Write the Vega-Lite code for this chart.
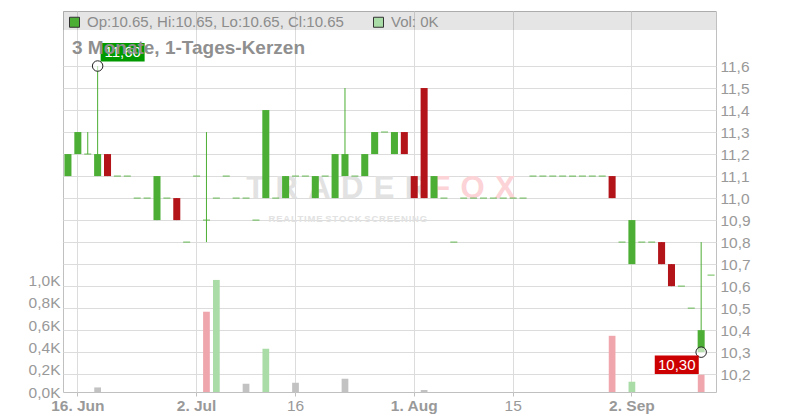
{
  "$schema": "https://vega.github.io/schema/vega-lite/v6.json",
  "width": 653,
  "height": 381,
  "autosize": "none",
  "padding": {"left": 63, "top": 11, "right": 84, "bottom": 28},
  "background": "white",
  "config": {
    "font": "Liberation Sans",
    "view": {"stroke": "#c0c0c0", "strokeWidth": 1},
    "axis": {"labelColor": "#999999", "labelFont": "Liberation Sans", "gridColor": "#dcdcdc", "gridWidth": 1}
  },
  "title": {
    "text": "3 Monate, 1-Tages-Kerzen",
    "anchor": "start",
    "frame": "group",
    "orient": "top",
    "baseline": "alphabetic",
    "offset": -62,
    "dx": 9,
    "fontSize": 19,
    "fontWeight": "bold",
    "color": "#8f8f8f",
    "font": "Liberation Sans"
  },
  "datasets": {
    "candles": [
      {"d": "2025-06-13", "o": 11.1, "h": 11.2, "l": 11.1, "c": 11.2, "v": 0, "vd": "flat"},
      {"d": "2025-06-16", "o": 11.2, "h": 11.3, "l": 11.2, "c": 11.3, "v": 0, "vd": "up"},
      {"d": "2025-06-17", "o": 11.2, "h": 11.3, "l": 11.2, "c": 11.2, "v": 0, "vd": "down"},
      {"d": "2025-06-18", "o": 11.1, "h": 11.6, "l": 11.1, "c": 11.2, "v": 41, "vd": "flat"},
      {"d": "2025-06-19", "o": 11.2, "h": 11.2, "l": 11.1, "c": 11.1, "v": 0, "vd": "down"},
      {"d": "2025-06-20", "o": 11.1, "h": 11.1, "l": 11.1, "c": 11.1, "v": 0, "vd": "flat"},
      {"d": "2025-06-23", "o": 11.1, "h": 11.1, "l": 11.1, "c": 11.1, "v": 0, "vd": "flat"},
      {"d": "2025-06-24", "o": 11.0, "h": 11.0, "l": 11.0, "c": 11.0, "v": 0, "vd": "down"},
      {"d": "2025-06-25", "o": 11.0, "h": 11.0, "l": 11.0, "c": 11.0, "v": 0, "vd": "flat"},
      {"d": "2025-06-26", "o": 10.9, "h": 11.1, "l": 10.9, "c": 11.1, "v": 0, "vd": "up"},
      {"d": "2025-06-27", "o": 11.0, "h": 11.0, "l": 11.0, "c": 11.0, "v": 0, "vd": "down"},
      {"d": "2025-06-30", "o": 11.0, "h": 11.0, "l": 10.9, "c": 10.9, "v": 0, "vd": "down"},
      {"d": "2025-07-01", "o": 10.8, "h": 10.8, "l": 10.8, "c": 10.8, "v": 0, "vd": "down"},
      {"d": "2025-07-02", "o": 11.1, "h": 11.1, "l": 11.1, "c": 11.1, "v": 0, "vd": "up"},
      {"d": "2025-07-03", "o": 10.9, "h": 11.3, "l": 10.8, "c": 10.9, "v": 720, "vd": "down"},
      {"d": "2025-07-04", "o": 11.0, "h": 11.0, "l": 11.0, "c": 11.0, "v": 1005, "vd": "up"},
      {"d": "2025-07-07", "o": 11.1, "h": 11.1, "l": 11.1, "c": 11.1, "v": 0, "vd": "up"},
      {"d": "2025-07-08", "o": 11.0, "h": 11.0, "l": 11.0, "c": 11.0, "v": 0, "vd": "down"},
      {"d": "2025-07-09", "o": 11.0, "h": 11.0, "l": 11.0, "c": 11.0, "v": 74, "vd": "flat"},
      {"d": "2025-07-10", "o": 10.9, "h": 10.9, "l": 10.9, "c": 10.9, "v": 0, "vd": "down"},
      {"d": "2025-07-11", "o": 11.0, "h": 11.4, "l": 11.0, "c": 11.4, "v": 388, "vd": "up"},
      {"d": "2025-07-14", "o": 11.0, "h": 11.0, "l": 11.0, "c": 11.0, "v": 0, "vd": "down"},
      {"d": "2025-07-15", "o": 11.0, "h": 11.1, "l": 11.0, "c": 11.1, "v": 0, "vd": "up"},
      {"d": "2025-07-16", "o": 11.1, "h": 11.1, "l": 11.1, "c": 11.1, "v": 83, "vd": "flat"},
      {"d": "2025-07-17", "o": 11.1, "h": 11.1, "l": 11.1, "c": 11.1, "v": 0, "vd": "flat"},
      {"d": "2025-07-18", "o": 11.0, "h": 11.1, "l": 11.0, "c": 11.1, "v": 0, "vd": "flat"},
      {"d": "2025-07-21", "o": 11.1, "h": 11.1, "l": 11.1, "c": 11.1, "v": 0, "vd": "flat"},
      {"d": "2025-07-22", "o": 11.0, "h": 11.2, "l": 11.0, "c": 11.2, "v": 0, "vd": "up"},
      {"d": "2025-07-23", "o": 11.1, "h": 11.5, "l": 11.1, "c": 11.2, "v": 119, "vd": "flat"},
      {"d": "2025-07-24", "o": 11.1, "h": 11.1, "l": 11.1, "c": 11.1, "v": 0, "vd": "down"},
      {"d": "2025-07-25", "o": 11.1, "h": 11.2, "l": 11.1, "c": 11.2, "v": 0, "vd": "up"},
      {"d": "2025-07-28", "o": 11.2, "h": 11.3, "l": 11.2, "c": 11.3, "v": 0, "vd": "up"},
      {"d": "2025-07-29", "o": 11.3, "h": 11.3, "l": 11.3, "c": 11.3, "v": 0, "vd": "flat"},
      {"d": "2025-07-30", "o": 11.2, "h": 11.3, "l": 11.2, "c": 11.3, "v": 0, "vd": "flat"},
      {"d": "2025-07-31", "o": 11.3, "h": 11.3, "l": 11.2, "c": 11.2, "v": 0, "vd": "down"},
      {"d": "2025-08-01", "o": 11.1, "h": 11.1, "l": 11.0, "c": 11.0, "v": 0, "vd": "down"},
      {"d": "2025-08-04", "o": 11.5, "h": 11.5, "l": 11.0, "c": 11.0, "v": 18, "vd": "flat"},
      {"d": "2025-08-05", "o": 11.0, "h": 11.1, "l": 11.0, "c": 11.1, "v": 0, "vd": "up"},
      {"d": "2025-08-06", "o": 11.0, "h": 11.0, "l": 11.0, "c": 11.0, "v": 0, "vd": "down"},
      {"d": "2025-08-07", "o": 10.8, "h": 10.8, "l": 10.8, "c": 10.8, "v": 0, "vd": "down"},
      {"d": "2025-08-08", "o": 11.0, "h": 11.0, "l": 11.0, "c": 11.0, "v": 0, "vd": "up"},
      {"d": "2025-08-11", "o": 11.0, "h": 11.0, "l": 11.0, "c": 11.0, "v": 0, "vd": "flat"},
      {"d": "2025-08-12", "o": 11.0, "h": 11.0, "l": 11.0, "c": 11.0, "v": 0, "vd": "flat"},
      {"d": "2025-08-13", "o": 11.0, "h": 11.0, "l": 11.0, "c": 11.0, "v": 0, "vd": "flat"},
      {"d": "2025-08-14", "o": 11.0, "h": 11.0, "l": 11.0, "c": 11.0, "v": 0, "vd": "flat"},
      {"d": "2025-08-15", "o": 11.0, "h": 11.0, "l": 11.0, "c": 11.0, "v": 0, "vd": "flat"},
      {"d": "2025-08-18", "o": 11.0, "h": 11.0, "l": 11.0, "c": 11.0, "v": 0, "vd": "flat"},
      {"d": "2025-08-19", "o": 11.1, "h": 11.1, "l": 11.1, "c": 11.1, "v": 0, "vd": "up"},
      {"d": "2025-08-20", "o": 11.1, "h": 11.1, "l": 11.1, "c": 11.1, "v": 0, "vd": "flat"},
      {"d": "2025-08-21", "o": 11.1, "h": 11.1, "l": 11.1, "c": 11.1, "v": 0, "vd": "flat"},
      {"d": "2025-08-22", "o": 11.1, "h": 11.1, "l": 11.1, "c": 11.1, "v": 0, "vd": "flat"},
      {"d": "2025-08-25", "o": 11.1, "h": 11.1, "l": 11.1, "c": 11.1, "v": 0, "vd": "flat"},
      {"d": "2025-08-26", "o": 11.1, "h": 11.1, "l": 11.1, "c": 11.1, "v": 0, "vd": "flat"},
      {"d": "2025-08-27", "o": 11.1, "h": 11.1, "l": 11.1, "c": 11.1, "v": 0, "vd": "flat"},
      {"d": "2025-08-28", "o": 11.1, "h": 11.1, "l": 11.1, "c": 11.1, "v": 0, "vd": "flat"},
      {"d": "2025-08-29", "o": 11.1, "h": 11.1, "l": 11.0, "c": 11.0, "v": 504, "vd": "down"},
      {"d": "2025-09-01", "o": 10.8, "h": 10.8, "l": 10.8, "c": 10.8, "v": 0, "vd": "down"},
      {"d": "2025-09-02", "o": 10.7, "h": 10.9, "l": 10.7, "c": 10.9, "v": 92, "vd": "up"},
      {"d": "2025-09-03", "o": 10.8, "h": 10.8, "l": 10.8, "c": 10.8, "v": 0, "vd": "down"},
      {"d": "2025-09-04", "o": 10.8, "h": 10.8, "l": 10.8, "c": 10.8, "v": 0, "vd": "flat"},
      {"d": "2025-09-05", "o": 10.8, "h": 10.8, "l": 10.7, "c": 10.7, "v": 0, "vd": "down"},
      {"d": "2025-09-08", "o": 10.7, "h": 10.7, "l": 10.6, "c": 10.6, "v": 0, "vd": "down"},
      {"d": "2025-09-09", "o": 10.6, "h": 10.6, "l": 10.6, "c": 10.6, "v": 0, "vd": "flat"},
      {"d": "2025-09-10", "o": 10.5, "h": 10.5, "l": 10.5, "c": 10.5, "v": 0, "vd": "down"},
      {"d": "2025-09-11", "o": 10.3, "h": 10.8, "l": 10.3, "c": 10.4, "v": 155, "vd": "down"},
      {"d": "2025-09-12", "o": 10.65, "h": 10.65, "l": 10.65, "c": 10.65, "v": 0, "vd": "up"}
    ]
  },
  "layer": [
    {
      "data": {"name": "candles"},
      "mark": {"type": "bar", "width": {"band": 0.68}},
      "encoding": {
        "x": {
          "field": "d", "type": "ordinal",
          "scale": {"type": "band", "paddingInner": 0, "paddingOuter": 0},
          "axis": {
            "values": ["2025-06-16", "2025-07-02", "2025-07-16", "2025-08-01", "2025-08-15", "2025-09-02"],
            "labelExpr": "{'2025-06-16': '16. Jun', '2025-07-02': '2. Jul', '2025-07-16': '16', '2025-08-01': '1. Aug', '2025-08-15': '15', '2025-09-02': '2. Sep'}[datum.value]",
            "labelFontWeight": {"condition": {"test": "datum.value == '2025-07-16' || datum.value == '2025-08-15'", "value": "normal"}, "value": "bold"},
            "grid": true,
            "bandPosition": 0.5,
            "tickSize": 4,
            "tickColor": "#c0c0c0",
            "domain": false,
            "labelAngle": 0,
            "labelFontSize": 15.5,
            "labelPadding": 2,
            "title": null
          }
        },
        "y": {
          "field": "v", "type": "quantitative",
          "scale": {"domain": [0, 3417], "nice": false, "zero": true},
          "axis": {
            "orient": "left",
            "values": [0, 200, 400, 600, 800, 1000],
            "tickCount": 20,
            "labelExpr": "replace(format(datum.value / 1000, '.1f'), '.', ',') + 'K'",
            "grid": false, "ticks": false, "domain": false,
            "labelFontSize": 15.5, "labelPadding": 3, "title": null
          }
        },
        "color": {
          "field": "vd", "type": "nominal",
          "scale": {"domain": ["up", "down", "flat"], "range": ["#a9dca6", "#efa6ad", "#c2c2c2"]},
          "legend": null
        }
      }
    },
    {
      "layer": [
        {
          "data": {"values": [{"band": "header"}]},
          "mark": {"type": "rect", "color": "#000000", "opacity": 0.1},
          "encoding": {
            "y": {
              "datum": 11.85, "type": "quantitative",
              "scale": {"domain": [10.119, 11.85], "zero": false, "nice": false},
              "axis": {
                "orient": "right",
                "values": [10.2, 10.3, 10.4, 10.5, 10.6, 10.7, 10.8, 10.9, 11.0, 11.1, 11.2, 11.3, 11.4, 11.5, 11.6],
                "tickCount": 30,
                "labelExpr": "replace(format(datum.value, '.1f'), '.', ',')",
                "labelOverlap": false,
                "grid": true, "ticks": false, "domain": false,
                "labelFontSize": 15.5, "labelPadding": 4, "title": null
              }
            },
            "y2": {"datum": 11.764}
          }
        },
        {
          "data": {"values": [{"w": "T\u2004R\u2004A\u2004D\u2004E\u2004R", "d": "2025-08-04", "p": 11.0}]},
          "mark": {"type": "text", "align": "right", "baseline": "alphabetic", "dx": 3, "fontSize": 31, "fontWeight": "bold", "color": "#e2e2e2"},
          "encoding": {
            "x": {"field": "d", "type": "ordinal"},
            "y": {"field": "p", "type": "quantitative"},
            "text": {"field": "w"}
          }
        },
        {
          "data": {"values": [{"w": "F\u2004O\u2004X", "d": "2025-08-04", "p": 11.0}]},
          "mark": {"type": "text", "align": "left", "baseline": "alphabetic", "dx": 7, "fontSize": 31, "fontWeight": "bold", "color": "#fcd3d6"},
          "encoding": {
            "x": {"field": "d", "type": "ordinal"},
            "y": {"field": "p", "type": "quantitative"},
            "text": {"field": "w"}
          }
        },
        {
          "data": {"values": [{"w": "R\u200aE\u200aA\u200aL\u200aT\u200aI\u200aM\u200aE  S\u200aT\u200aO\u200aC\u200aK  S\u200aC\u200aR\u200aE\u200aE\u200aN\u200aI\u200aN\u200aG", "d": "2025-08-04", "p": 10.89}]},
          "mark": {"type": "text", "align": "right", "baseline": "alphabetic", "dx": 3, "fontSize": 9.5, "fontWeight": "bold", "color": "#e2e2e2"},
          "encoding": {
            "x": {"field": "d", "type": "ordinal"},
            "y": {"field": "p", "type": "quantitative"},
            "text": {"field": "w"}
          }
        },
        {
          "data": {"values": [{"lg": "Op:10.65, Hi:10.65, Lo:10.65, Cl:10.65"}, {"lg": "Vol: 0K"}]},
          "mark": {"type": "point", "shape": "square", "opacity": 0},
          "encoding": {
            "fill": {
              "field": "lg", "type": "nominal",
              "scale": {"domain": ["Op:10.65, Hi:10.65, Lo:10.65, Cl:10.65", "Vol: 0K"], "range": ["#4cae34", "#a9dca6"]},
              "legend": {
                "orient": "none", "legendX": 4, "legendY": 3.5,
                "direction": "horizontal", "columns": 2, "columnPadding": 27,
                "title": null, "padding": 0,
                "symbolType": "square", "symbolSize": 100, "symbolOpacity": 1,
                "symbolStrokeColor": "#333333", "symbolStrokeWidth": 1,
                "labelFontSize": 15, "labelColor": "#8c8c8c", "labelFont": "Liberation Sans",
                "labelOffset": 5, "labelLimit": 0
              }
            }
          }
        },
        {
          "data": {"name": "candles"},
          "mark": {"type": "rule", "strokeWidth": 1},
          "encoding": {
            "x": {"field": "d", "type": "ordinal"},
            "y": {"field": "l", "type": "quantitative"},
            "y2": {"field": "h"},
            "color": {"condition": {"test": "datum.c < datum.o", "value": "#b3141a"}, "value": "#4cae34"}
          }
        },
        {
          "data": {"name": "candles"},
          "mark": {"type": "bar", "width": {"band": 0.71}},
          "encoding": {
            "x": {"field": "d", "type": "ordinal"},
            "y": {"field": "o", "type": "quantitative"},
            "y2": {"field": "c"},
            "color": {"condition": {"test": "datum.c < datum.o", "value": "#b3141a"}, "value": "#4cae34"}
          }
        },
        {
          "data": {"name": "candles"},
          "transform": [{"filter": "datum.o == datum.c"}],
          "mark": {"type": "tick", "thickness": 1.2, "size": 7, "color": "#4cae34"},
          "encoding": {
            "x": {"field": "d", "type": "ordinal"},
            "y": {"field": "c", "type": "quantitative"}
          }
        },
        {
          "data": {"values": [{"d": "2025-06-18", "p": 11.6}, {"d": "2025-09-11", "p": 10.3}]},
          "mark": {"type": "point", "shape": "circle", "size": 110, "filled": true, "fill": "white", "fillOpacity": 0.6, "stroke": "#222222", "strokeWidth": 1, "opacity": 1},
          "encoding": {
            "x": {"field": "d", "type": "ordinal"},
            "y": {"field": "p", "type": "quantitative"}
          }
        },
        {
          "data": {"values": [{"d": "2025-06-18", "p": 11.6}]},
          "mark": {"type": "rect", "width": 44, "height": 18.5, "xOffset": 25, "yOffset": -13.7, "color": "#009a00"},
          "encoding": {
            "x": {"field": "d", "type": "ordinal"},
            "y": {"field": "p", "type": "quantitative"}
          }
        },
        {
          "data": {"values": [{"d": "2025-06-18", "p": 11.6, "t": "11,60"}]},
          "mark": {"type": "text", "xOffset": 25, "yOffset": -13.7, "color": "white", "fontSize": 15, "align": "center", "baseline": "middle"},
          "encoding": {
            "x": {"field": "d", "type": "ordinal"},
            "y": {"field": "p", "type": "quantitative"},
            "text": {"field": "t"}
          }
        },
        {
          "data": {"values": [{"d": "2025-09-11", "p": 10.3}]},
          "mark": {"type": "rect", "width": 44, "height": 18.5, "xOffset": -24.4, "yOffset": 12.6, "color": "#cc0000"},
          "encoding": {
            "x": {"field": "d", "type": "ordinal"},
            "y": {"field": "p", "type": "quantitative"}
          }
        },
        {
          "data": {"values": [{"d": "2025-09-11", "p": 10.3, "t": "10,30"}]},
          "mark": {"type": "text", "xOffset": -24.4, "yOffset": 12.6, "color": "white", "fontSize": 15, "align": "center", "baseline": "middle"},
          "encoding": {
            "x": {"field": "d", "type": "ordinal"},
            "y": {"field": "p", "type": "quantitative"},
            "text": {"field": "t"}
          }
        }
      ]
    }
  ],
  "resolve": {"scale": {"y": "independent"}}
}
